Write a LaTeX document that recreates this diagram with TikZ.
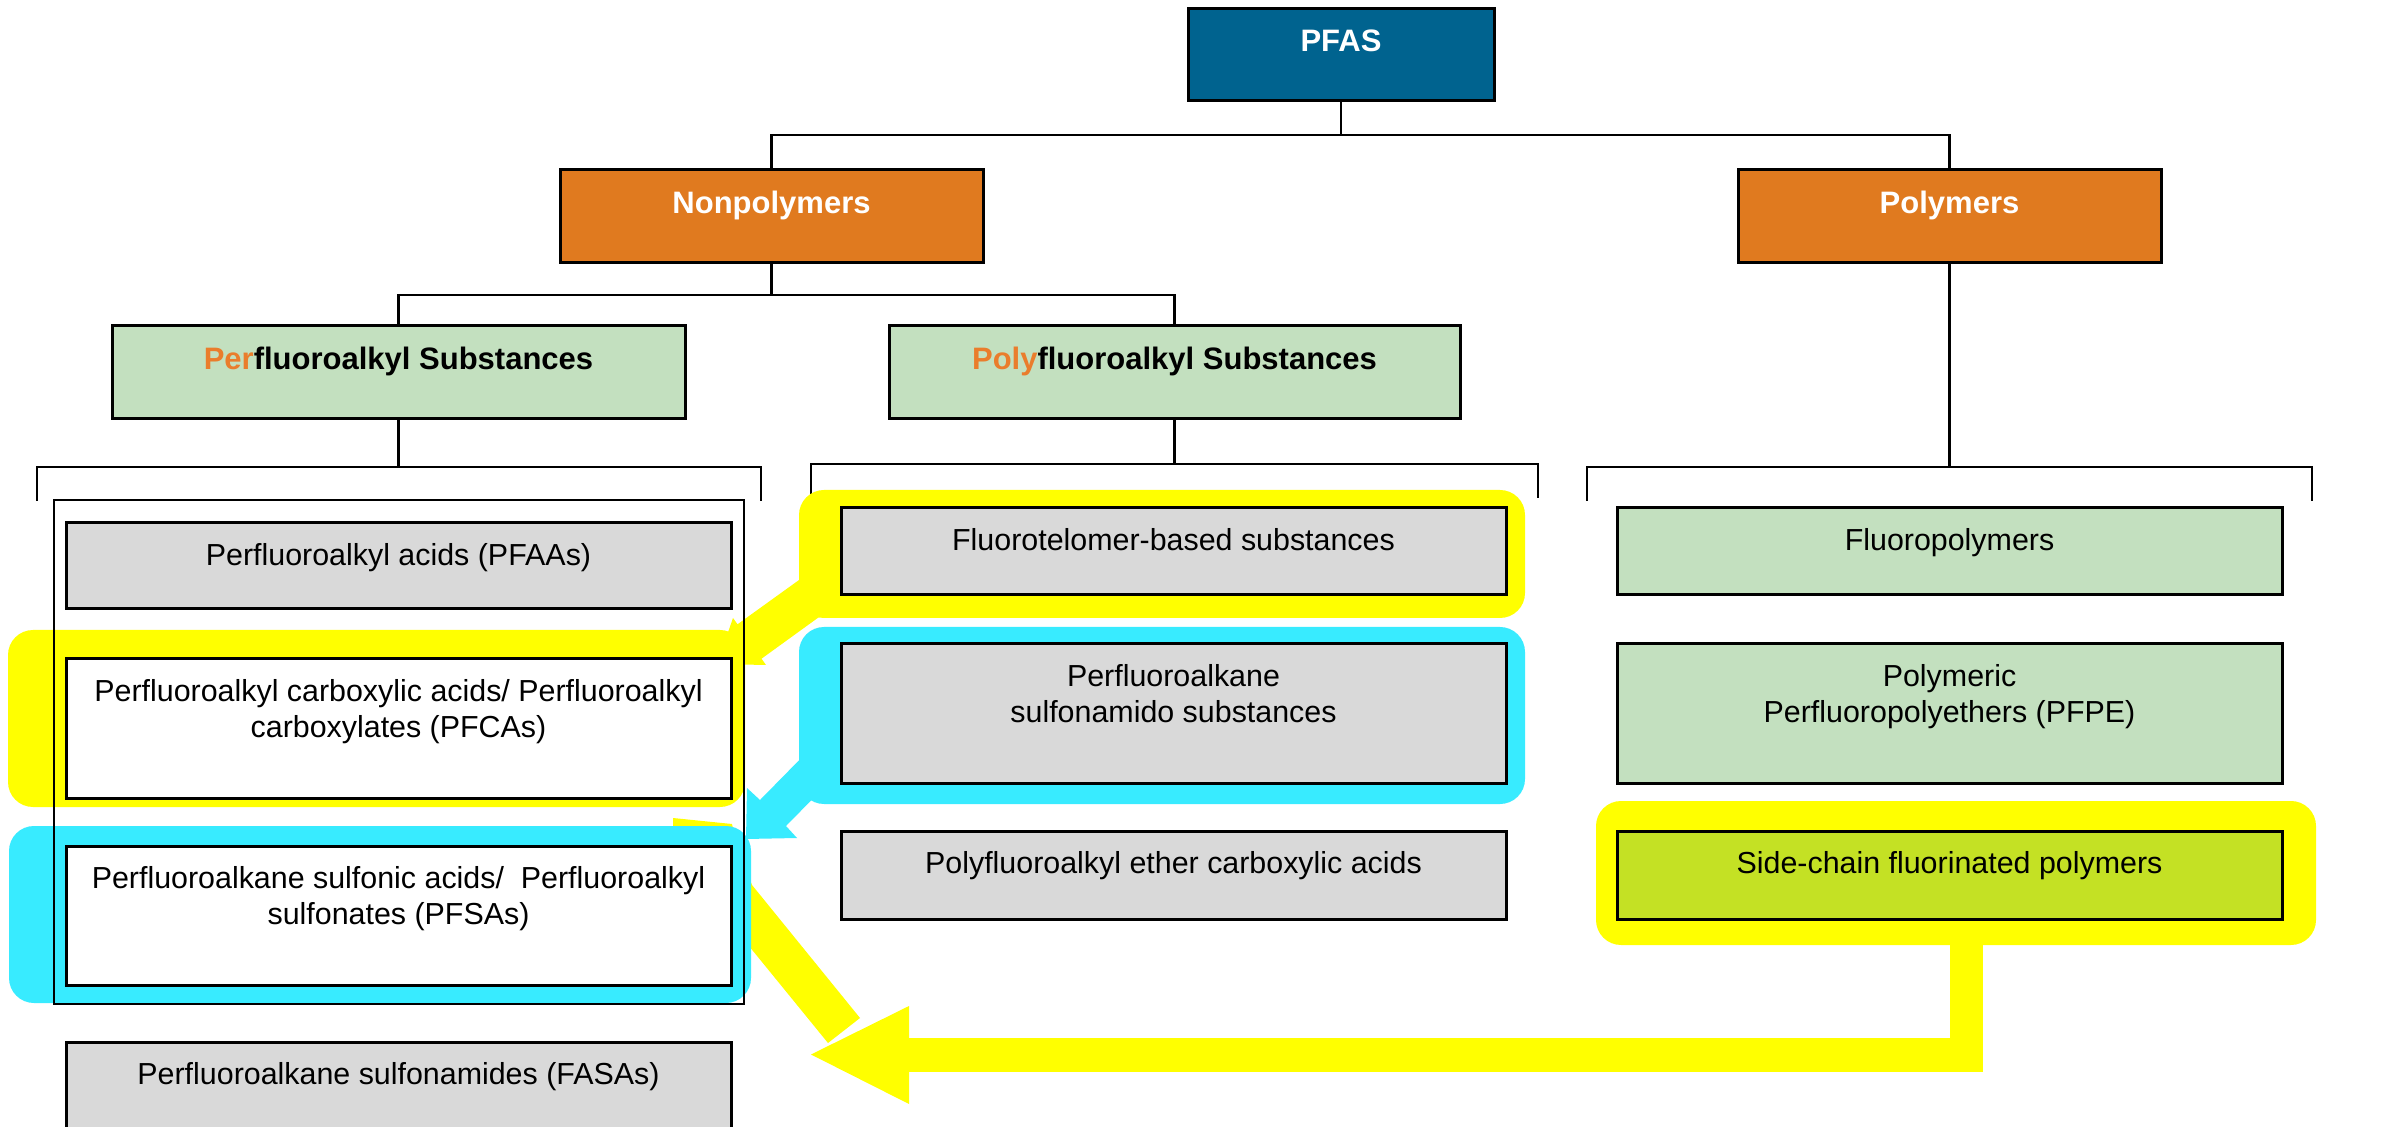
\documentclass[tikz,border=0pt]{standalone}
\usepackage{fontspec}
\setmainfont{Liberation Sans}
\usetikzlibrary{fit}
\definecolor{pfasblue}{HTML}{00638F}
\definecolor{boxorange}{HTML}{E07A1F}
\definecolor{txtorange}{HTML}{EA7D2C}
\definecolor{palegreen}{HTML}{C3E0BF}
\definecolor{boxgrey}{HTML}{D9D9D9}
\definecolor{limegreen}{HTML}{C4E124}
\definecolor{hlyellow}{HTML}{FFFF00}
\definecolor{hlcyan}{HTML}{38EBFF}
\pgfdeclarelayer{bglayer}
\pgfdeclarelayer{treelayer}
\pgfdeclarelayer{arrowlayer}
\pgfdeclarelayer{hllayer}
\pgfdeclarelayer{toplayer}
\pgfsetlayers{bglayer,treelayer,arrowlayer,hllayer,main,toplayer}
\begin{document}
\begin{tikzpicture}[x=0.5pt,y=-0.5pt,
  box/.style={draw=black, line width=1.5pt, inner sep=0pt, rectangle},
  lbl/.style={anchor=north, inner sep=0pt, align=center, font=\fontsize{15.2pt}{18pt}\selectfont},
  hdr/.style={anchor=north, inner sep=0pt, font=\fontsize{15.5pt}{18pt}\selectfont\bfseries},
  tree/.style={draw=black, line width=1.35pt},
  hlbox/.style={rounded corners=12.5pt, inner sep=0pt, rectangle},
]
\useasboundingbox (0,0) rectangle (2403,1127);
\begin{pgfonlayer}{bglayer}
\fill[white] (0,0) rectangle (2403,1127);
\end{pgfonlayer}
\clip (0,0) rectangle (2403,1127);

% ---------- boxes ----------
\node[box, fill=pfasblue, fit={(1188,9) (1494,101)}] (pfas) {};
\node[box, fill=boxorange, fit={(560,170) (983,263)}] (nonpoly) {};
\node[box, fill=boxorange, fit={(1738,170) (2161,263)}] (poly) {};
\node[box, fill=palegreen, fit={(112,326) (685,419)}] (perfl) {};
\node[box, fill=palegreen, fit={(889,326) (1460,419)}] (polyfl) {};
\node[box, fill=boxgrey, fit={(66,523) (731,609)}] (pfaa) {};
\node[box, fill=white, fit={(66,659) (731,798)}] (pfca) {};
\node[box, fill=white, fit={(66,846) (731,985)}] (pfsa) {};
\node[box, fill=boxgrey, fit={(66,1042) (731,1150)}] (fasa) {};
\node[box, fill=boxgrey, fit={(841,508) (1506,595)}] (flt) {};
\node[box, fill=boxgrey, fit={(841,644) (1506,783)}] (sulf) {};
\node[box, fill=boxgrey, fit={(841,831) (1506,919)}] (ether) {};
\node[box, fill=palegreen, fit={(1617,508) (2282,595)}] (fpoly) {};
\node[box, fill=palegreen, fit={(1617,644) (2282,783)}] (pfpe) {};
\node[box, fill=limegreen, fit={(1617,831) (2282,919)}] (side) {};

% ---------- texts ----------
\node[hdr, text=white] (pfas-t) at ([yshift=-11pt]pfas.north) {PFAS};
\node[hdr, text=white] (nonpoly-t) at ([yshift=-11pt]nonpoly.north) {Nonpolymers};
\node[hdr, text=white] (poly-t) at ([yshift=-11pt]poly.north) {Polymers};
\node[hdr] (perfl-t) at ([yshift=-11pt]perfl.north) {\textcolor{txtorange}{Per}fluoroalkyl Substances};
\node[hdr] (polyfl-t) at ([yshift=-11pt]polyfl.north) {\textcolor{txtorange}{Poly}fluoroalkyl Substances};
\node[lbl] (pfaa-t) at ([yshift=-11pt]pfaa.north) {Perfluoroalkyl acids (PFAAs)};
\node[lbl] (pfca-t) at ([yshift=-11pt]pfca.north) {Perfluoroalkyl carboxylic acids/ Perfluoroalkyl\\carboxylates (PFCAs)};
\node[lbl] (pfsa-t) at ([yshift=-11pt]pfsa.north) {Perfluoroalkane sulfonic acids/~ Perfluoroalkyl\\sulfonates (PFSAs)};
\node[lbl] (fasa-t) at ([yshift=-11pt]fasa.north) {Perfluoroalkane sulfonamides (FASAs)};
\node[lbl] (flt-t) at ([yshift=-11pt]flt.north) {Fluorotelomer-based substances};
\node[lbl] (sulf-t) at ([yshift=-11pt]sulf.north) {Perfluoroalkane\\sulfonamido substances};
\node[lbl] (ether-t) at ([yshift=-11pt]ether.north) {Polyfluoroalkyl ether carboxylic acids};
\node[lbl] (fpoly-t) at ([yshift=-11pt]fpoly.north) {Fluoropolymers};
\node[lbl] (pfpe-t) at ([yshift=-11pt]pfpe.north) {Polymeric\\Perfluoropolyethers (PFPE)};
\node[lbl] (side-t) at ([yshift=-11pt]side.north) {Side-chain fluorinated polymers};

% ---------- tree connectors ----------
\begin{pgfonlayer}{treelayer}
\coordinate (j1) at (0,135);
\coordinate (j2) at (0,295);
\coordinate (b1) at (0,467);
\coordinate (b2) at (0,464);
\coordinate (b1l) at (37,501);
\coordinate (b1r) at (761,501);
\coordinate (b2l) at (811,498);
\coordinate (b2r) at (1538,498);
\coordinate (b3l) at (1587,501);
\coordinate (b3r) at (2312,501);
\draw[tree] (pfas.south) -- (pfas.south |- j1);
\draw[tree] (nonpoly.north) |- (poly.north |- j1) -- (poly.north);
\draw[tree] (nonpoly.south) -- (nonpoly.south |- j2);
\draw[tree] (perfl.north) |- (polyfl.north |- j2) -- (polyfl.north);
\draw[tree] (perfl.south) -- (perfl.south |- b1);
\draw[tree] (b1l) |- (b1r |- b1) -- (b1r);
\draw[tree] (polyfl.south) -- (polyfl.south |- b2);
\draw[tree] (b2l) |- (b2r |- b2) -- (b2r);
\draw[tree] (poly.south) -- (poly.south |- b1);
\draw[tree] (b3l) |- (b3r |- b1) -- (b3r);
\end{pgfonlayer}

% ---------- highlight arrows ----------
\begin{pgfonlayer}{arrowlayer}
% Fluorotelomer -> PFCAs
\fill[hlyellow] (831,557) -- (737.5,624.3) -- (733,618) -- (717,664) -- (766,665) -- (761.5,658.7) -- (855,591) -- cycle;
% Sulfonamido -> PFSAs
\fill[hlcyan] (816,743) -- (760,800) -- (747,788) -- (746,839) -- (797,838) -- (786,826) -- (842,769) -- cycle;
% PFSAs -> down
\fill[hlyellow] (673,818) -- (732,824) -- (738,850) -- (752,885) -- (860,1018) -- (828,1043) -- (740,935) -- (673,880) -- cycle;
% Side-chain -> left
\draw[hlyellow, line width=16.75pt, line join=miter] (1966.5,930) -- (1966.5,1055) -- (900,1055);
\fill[hlyellow] (811,1054.5) -- (909,1006) -- (909,1104) -- cycle;
\end{pgfonlayer}

% ---------- highlights ----------
\begin{pgfonlayer}{hllayer}
\node[hlbox, fill=hlyellow, fit={(799,490) (1525,618)}] (flt-hl) {};
\node[hlbox, fill=hlcyan, fit={(799,627) (1525,804)}] (sulf-hl) {};
\node[hlbox, fill=hlyellow, fit={(8,630) (745,807)}] (pfca-hl) {};
\node[hlbox, fill=hlcyan, fit={(9,826) (751,1003)}] (pfsa-hl) {};
\node[hlbox, fill=hlyellow, fit={(1596,801) (2316,945)}] (side-hl) {};
\end{pgfonlayer}

% ---------- PFAA group frame ----------
\begin{pgfonlayer}{toplayer}
\node[draw=black, line width=1.25pt, inner sep=0pt, rectangle, fit={(54,500) (744,1004)}] (pfaa-group) {};
\end{pgfonlayer}
\end{tikzpicture}
\end{document}
